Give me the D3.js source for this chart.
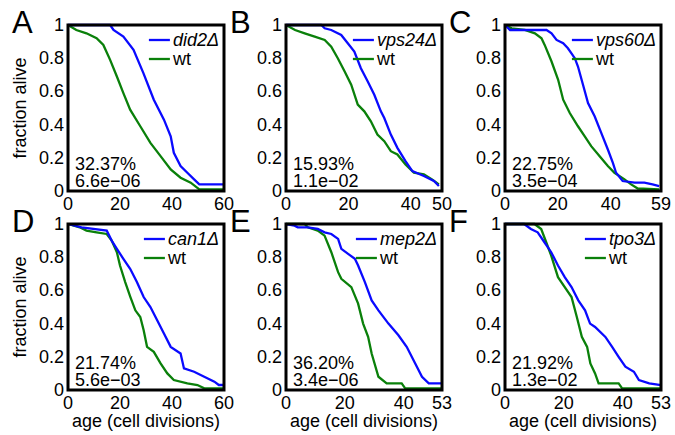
<!DOCTYPE html>
<head>
  <meta charset="utf-8">
  <script src="https://d3js.org/d3.v7.min.js"></script>
  <style>
    body { margin: 0; background: #fff; }
    text { font-family: "Liberation Sans", Arial, Helvetica, sans-serif; fill: #000; }
  </style>
</head>
<body>
<script>
  // panels: letter, mutant name, x max, x tick labels, percent and p value
  var letters = ["A", "B", "C", "D", "E", "F"];
  var mutants = ["did2\u0394", "vps24\u0394", "vps60\u0394", "can1\u0394", "mep2\u0394", "tpo3\u0394"];
  var xMax = [60, 50, 59, 60, 53, 53];
  var xTicks = [[0, 20, 40, 60], [0, 20, 40, 50], [0, 20, 40, 59], [0, 20, 40, 60], [0, 20, 40, 53], [0, 20, 40, 53]];
  var yTicks = [0, 0.2, 0.4, 0.6, 0.8, 1];
  var percents = ["32.37%", "15.93%", "22.75%", "21.74%", "36.20%", "21.92%"];
  var pvalues = ["6.6e\u221206", "1.1e\u221202", "3.5e\u221204", "5.6e\u221203", "3.4e\u221206", "1.3e\u221202"];

  // survival curves: [age, fraction alive]
  var mutA = [[0,1],[16.2,1],[17.5,0.97],[21.3,0.93],[25.2,0.85],[29,0.71],[33,0.55],[36.9,0.43],[39.5,0.33],[40.7,0.23],[43.3,0.15],[45.9,0.11],[48.5,0.07],[50.5,0.04],[60,0.04]];
  var wtA = [[0,1],[3.2,0.97],[7.1,0.95],[11,0.92],[13.6,0.88],[16.2,0.79],[18.8,0.69],[21.3,0.59],[23.9,0.49],[27.8,0.39],[31.7,0.29],[35.6,0.21],[39.5,0.13],[43.3,0.08],[47.2,0.05],[50.5,0.01],[60,0.01]];
  var mutB = [[0,1],[11.3,1],[12.4,0.98],[14.5,0.97],[17.7,0.94],[19.8,0.89],[21.9,0.84],[24,0.74],[26.2,0.66],[28.3,0.58],[30.4,0.48],[31.5,0.44],[33.6,0.34],[35.7,0.26],[38.3,0.18],[40.5,0.12],[44.2,0.09],[47.4,0.06],[49,0.03]];
  var wtB = [[0,1],[2.9,0.97],[6,0.95],[9.2,0.93],[12.4,0.91],[14.5,0.87],[16.6,0.8],[18.8,0.72],[20.9,0.64],[23,0.52],[25.1,0.48],[27.2,0.42],[29.3,0.34],[31.5,0.3],[33.6,0.24],[35.7,0.22],[38.3,0.16],[41,0.11],[44.2,0.1],[46.8,0.07],[49,0.04]];
  var mutC = [[0,1],[1.9,0.97],[15.7,0.97],[17.6,0.95],[19.5,0.91],[22,0.89],[23.8,0.86],[26.4,0.8],[27.6,0.75],[29.5,0.64],[31.4,0.53],[33.9,0.45],[36.4,0.35],[38.9,0.25],[40.8,0.17],[42,0.11],[44.5,0.06],[49,0.05],[52.7,0.05],[55.8,0.04],[58.3,0.03]];
  var wtC = [[0,1],[2.5,0.98],[7.5,0.97],[11.3,0.95],[13.8,0.92],[15,0.88],[17.6,0.78],[20.1,0.67],[22,0.55],[24.5,0.47],[27.6,0.39],[30.1,0.33],[32.6,0.27],[35.8,0.21],[38.9,0.15],[41.4,0.11],[45.2,0.07],[47.7,0.04],[50.2,0.015],[58.3,0.01]];
  var mutD = [[0,1],[5.2,0.98],[14.9,0.96],[16.8,0.9],[18.8,0.85],[21.3,0.79],[23.9,0.73],[26.5,0.65],[29.1,0.56],[31.7,0.5],[34.3,0.42],[36.9,0.34],[39.5,0.26],[43.3,0.22],[44.6,0.13],[48.5,0.11],[52.4,0.08],[56.3,0.05],[58,0.03],[60,0.03]];
  var wtD = [[0,1],[4.5,0.98],[7.1,0.96],[11,0.95],[14.9,0.94],[16.8,0.9],[18.8,0.83],[20,0.75],[22,0.65],[24,0.56],[25.9,0.48],[27.8,0.44],[29.1,0.36],[30.4,0.26],[33,0.23],[35.6,0.16],[38.2,0.1],[40.7,0.06],[45.9,0.04],[49.8,0.03],[52.4,0.01],[60,0.01]];
  var mutE = [[0,1],[2.9,0.99],[4,0.98],[7.4,0.98],[10.8,0.97],[13.1,0.95],[15.4,0.94],[17.7,0.91],[18.8,0.85],[21.1,0.82],[23.4,0.79],[24.5,0.75],[26.8,0.65],[29.1,0.54],[31.4,0.48],[34.8,0.4],[38.2,0.33],[41,0.26],[43.9,0.16],[46.2,0.08],[48.5,0.04],[53,0.04]];
  var wtE = [[0,1],[6.3,1],[7.4,0.98],[10.8,0.96],[13.1,0.93],[15.4,0.83],[17.7,0.71],[18.8,0.67],[22.2,0.62],[24.5,0.52],[26.2,0.4],[27.9,0.32],[29.1,0.22],[31.4,0.08],[34.2,0.04],[39.3,0.04],[40.5,0.01],[53,0.01]];
  var mutF = [[0,1],[6.5,1],[8.8,0.97],[11.1,0.95],[13.4,0.89],[15.7,0.83],[18,0.75],[20.3,0.68],[22.6,0.62],[24.9,0.54],[27.2,0.48],[28.9,0.4],[30.6,0.38],[34.1,0.32],[36.4,0.26],[38.6,0.2],[40.9,0.14],[43.8,0.11],[45.5,0.06],[49,0.04],[53,0.03]];
  var wtF = [[0,1],[10,1],[12.3,0.97],[14,0.89],[15.7,0.81],[18,0.68],[20.3,0.62],[22.6,0.56],[24.4,0.44],[26.1,0.32],[27.9,0.26],[29,0.16],[30.6,0.1],[31.8,0.04],[38.6,0.04],[39.8,0.01],[53,0.01]];

  var mutCurves = [mutA, mutB, mutC, mutD, mutE, mutF];
  var wtCurves = [wtA, wtB, wtC, wtD, wtE, wtF];

  var blue = "#0a0aff", green = "#0a800a";
  var colX = [68, 286, 505], rowY = [25, 224];
  var pw = 156, ph = 166;

  var svg = d3.select("body").append("svg")
    .attr("width", 675)
    .attr("height", 435);

  letters.forEach(function(letter, i) {
    var col = i % 3, row = Math.floor(i / 3);
    var g = svg.append("g").attr("transform", "translate(" + colX[col] + "," + rowY[row] + ")");

    var x = d3.scaleLinear().domain([0, xMax[i]]).range([0, pw]);
    var y = d3.scaleLinear().domain([0, 1]).range([ph, 0]);

    var line = d3.line()
      .x(function(d) { return x(d[0]); })
      .y(function(d) { return y(d[1]); });

    g.append("path").datum(wtCurves[i])
      .attr("d", line).attr("fill", "none")
      .attr("stroke", green).attr("stroke-width", 2.3);
    g.append("path").datum(mutCurves[i])
      .attr("d", line).attr("fill", "none")
      .attr("stroke", blue).attr("stroke-width", 2.3);

    // frame
    g.append("rect").attr("width", pw).attr("height", ph)
      .attr("fill", "none").attr("stroke", "#000").attr("stroke-width", 3);

    // tick labels
    g.selectAll(".xt").data(xTicks[i]).enter().append("text")
      .attr("x", function(d) { return x(d); })
      .attr("y", ph + 19)
      .attr("text-anchor", "middle")
      .style("font-size", "18px")
      .text(function(d) { return d; });
    g.selectAll(".yt").data(yTicks).enter().append("text")
      .attr("x", -4)
      .attr("y", function(d) { return y(d) + 6; })
      .attr("text-anchor", "end")
      .style("font-size", "18px")
      .text(function(d) { return d; });

    // panel letter
    svg.append("text")
      .attr("x", colX[col] - 56)
      .attr("y", rowY[row] + 8)
      .style("font-size", "31px")
      .text(letter);

    // percent and p value
    g.append("text").attr("x", 7).attr("y", ph - 21)
      .style("font-size", "18px").text(percents[i]);
    g.append("text").attr("x", 7).attr("y", ph - 4)
      .style("font-size", "18px").text(pvalues[i]);

    // legend, right aligned inside the frame
    var names = [mutants[i], "wt"], cols = [blue, green];
    var t0 = g.append("text").attr("x", pw - 5).attr("y", 21)
      .attr("text-anchor", "end").style("font-size", "18px")
      .style("font-style", "italic").text(names[0]);
    var tx = pw - 5 - t0.node().getComputedTextLength();
    names.forEach(function(n, k) {
      var yy = 15 + k * 19;
      g.append("line")
        .attr("x1", tx - 24).attr("x2", tx - 3)
        .attr("y1", yy).attr("y2", yy)
        .attr("stroke", cols[k]).attr("stroke-width", 2.3);
      if (k == 1) {
        g.append("text").attr("x", tx).attr("y", yy + 6)
          .style("font-size", "18px").text(n);
      }
    });

    if (col == 0) {
      svg.append("text")
        .attr("transform", "translate(" + (colX[col] - 42) + "," + (rowY[row] + ph / 2) + ") rotate(-90)")
        .attr("text-anchor", "middle")
        .style("font-size", "18px")
        .text("fraction alive");
    }
    if (row == 1) {
      svg.append("text")
        .attr("x", colX[col] + pw / 2)
        .attr("y", rowY[row] + ph + 37)
        .attr("text-anchor", "middle")
        .style("font-size", "18px")
        .text("age (cell divisions)");
    }
  });
</script>
</body>
